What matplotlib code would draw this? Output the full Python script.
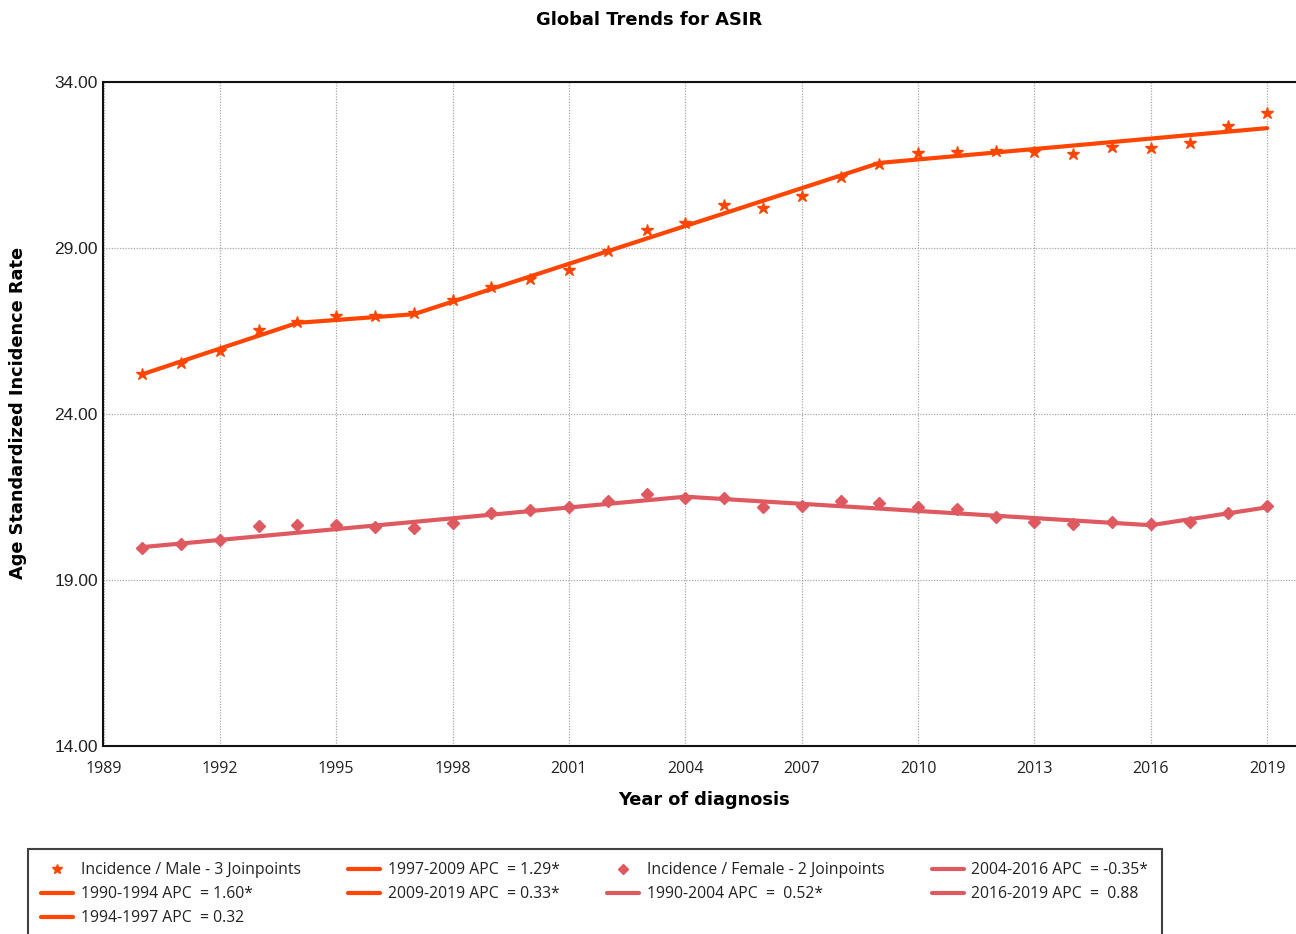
import matplotlib
matplotlib.use("Agg")
import matplotlib.pyplot as plt
from matplotlib.lines import Line2D

years = list(range(1990, 2020))
male_rate = [25.19, 25.52, 25.89, 26.52, 26.76, 26.94, 26.94, 27.03, 27.42, 27.82,
             28.06, 28.33, 28.90, 29.54, 29.75, 30.29, 30.20, 30.56, 31.13, 31.53,
             31.86, 31.89, 31.92, 31.89, 31.83, 32.04, 32.01, 32.16, 32.67, 33.06]
female_rate = [19.94, 20.06, 20.18, 20.61, 20.64, 20.64, 20.58, 20.55, 20.70, 21.00,
               21.09, 21.18, 21.36, 21.57, 21.45, 21.45, 21.18, 21.21, 21.36, 21.30,
               21.18, 21.12, 20.88, 20.73, 20.67, 20.73, 20.67, 20.73, 21.00, 21.21]

male_joint_years = [1990, 1994, 1997, 2009, 2019]
male_joint_fit = [25.19, 26.74, 27.00, 31.56, 32.61]
male_seg_labels = ["1990-1994 APC  = 1.60*", "1994-1997 APC  = 0.32",
                   "1997-2009 APC  = 1.29*", "2009-2019 APC  = 0.33*"]

female_joint_years = [1990, 2004, 2016, 2019]
female_joint_fit = [19.98, 21.50, 20.64, 21.18]
female_seg_labels = ["1990-2004 APC  =  0.52*", "2004-2016 APC  = -0.35*",
                     "2016-2019 APC  =  0.88"]

male_label = "Incidence / Male - 3 Joinpoints"
female_label = "Incidence / Female - 2 Joinpoints"

x_ticks = [1989, 1992, 1995, 1998, 2001, 2004, 2007, 2010, 2013, 2016, 2019]
y_ticks = [14, 19, 24, 29, 34]

male_color = "#FF4500"
female_color = "#DE5A60"

W, H = 1296, 934
fig = plt.figure(figsize=(W / 100, H / 100), dpi=100)
left_px, right_px, top_px, bot_px = 103.5, 1306, 82, 745.5
ax = fig.add_axes([left_px / W, 1 - bot_px / H, (right_px - left_px) / W, (bot_px - top_px) / H])

narrow = ["Open Sans", "DejaVu Sans"]
boldfam = ["DejaVu Sans"]

# fitted segments
seg_handles = []
for i in range(len(male_joint_years) - 1):
    h, = ax.plot(male_joint_years[i:i + 2], male_joint_fit[i:i + 2], color=male_color,
                 lw=3, solid_capstyle="round", zorder=3)
    seg_handles.append(h)
fseg_handles = []
for i in range(len(female_joint_years) - 1):
    h, = ax.plot(female_joint_years[i:i + 2], female_joint_fit[i:i + 2], color=female_color,
                 lw=3, solid_capstyle="round", zorder=3)
    fseg_handles.append(h)

ax.plot(years, male_rate, linestyle="none", marker="*", markersize=9,
        color=male_color, zorder=4)
ax.plot(years, female_rate, linestyle="none", marker="D", markersize=6,
        color=female_color, zorder=4)

ax.set_xlim(1989, 2020)
ax.set_ylim(14, 34)
ax.set_xticks(x_ticks)
ax.set_yticks(y_ticks)
ax.set_yticklabels([f"{v:.2f}" for v in y_ticks], fontsize=12.5,
                   family=["Liberation Sans", "DejaVu Sans"], color="#222222")
ax.set_xticklabels([str(v) for v in x_ticks], fontsize=11.5, family=narrow, color="#222222")
ax.tick_params(axis="both", length=0)
ax.tick_params(axis="x", pad=11)
ax.tick_params(axis="y", pad=4)
ax.grid(True, linestyle=(0, (1, 1.2)), color="#a8a8a8", linewidth=0.9)
for s in ax.spines.values():
    s.set_linewidth(1.5)
    s.set_color("#111111")

ax.set_xlabel("Year of diagnosis", fontsize=12.8, fontweight="bold", family=boldfam)
ax.xaxis.set_label_coords((704 - left_px) / (right_px - left_px), -(800 - bot_px) / (bot_px - top_px))
ax.xaxis.label.set_va("center")
ax.set_ylabel("Age Standardized Incidence Rate", fontsize=12.8, fontweight="bold", family=boldfam)
ax.yaxis.set_label_coords(-(left_px - 18) / (right_px - left_px), (bot_px - 413) / (bot_px - top_px))
ax.yaxis.label.set_va("center")
fig.text(649 / W, 1 - 20 / H, "Global Trends for ASIR", ha="center", va="center",
         fontsize=12.9, fontweight="bold", family=boldfam)

male_marker = Line2D([], [], linestyle="none", marker="*", markersize=7, color=male_color)
female_marker = Line2D([], [], linestyle="none", marker="D", markersize=5, color=female_color)
handles = [male_marker] + seg_handles + [female_marker] + fseg_handles
labels = [male_label] + male_seg_labels + [female_label] + female_seg_labels
leg = fig.legend(handles, labels, ncol=4, loc="upper left",
                 bbox_to_anchor=(28 / W, 1 - 849 / H), frameon=True, fancybox=False,
                 prop={"family": narrow, "size": 11.3}, handlelength=2.0,
                 handletextpad=0.5, columnspacing=3.05, labelspacing=0.5,
                 borderpad=0.85, borderaxespad=0)
leg.get_frame().set_edgecolor("#111111")
leg.get_frame().set_linewidth(1.5)
for t in leg.get_texts():
    t.set_color("#222222")

fig.savefig("out.png", dpi=100)
